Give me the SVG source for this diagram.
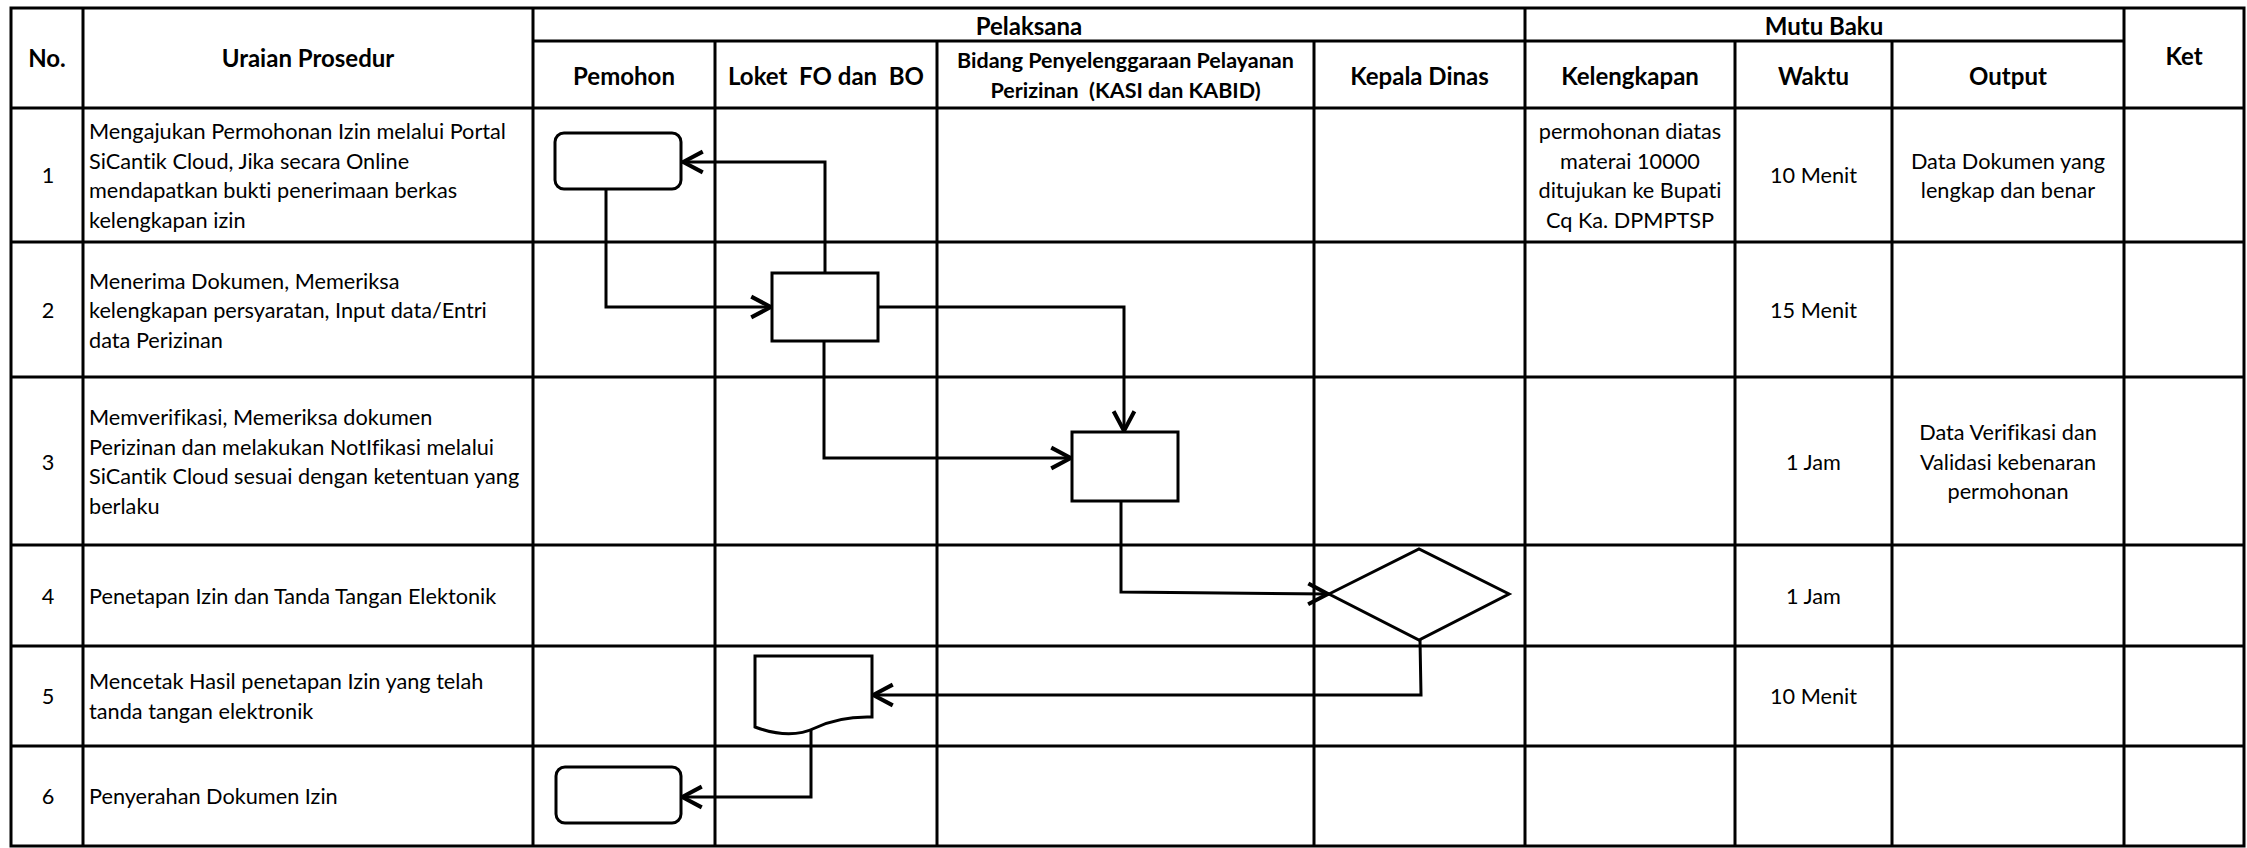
<svg xmlns="http://www.w3.org/2000/svg" width="2247" height="848" viewBox="0 0 2247 848">
<defs>
<style>
.grid{stroke:#000;stroke-width:3;fill:none}
.h{font-family:Lato,"Liberation Sans",Arial,sans-serif;font-weight:bold;font-size:24px;fill:#000;text-anchor:middle;dominant-baseline:central;white-space:pre;font-variant-ligatures:none}
.hs{font-size:21.5px}
.b{font-family:Lato,"Liberation Sans",Arial,sans-serif;font-size:21.7px;fill:#000;dominant-baseline:central;white-space:pre;font-variant-ligatures:none}
.c{text-anchor:middle}
.shape{stroke:#000;stroke-width:3;fill:#fff}
.conn{stroke:#000;stroke-width:3;fill:none;marker-end:url(#arr)}
</style>
<marker id="arr" markerUnits="userSpaceOnUse" markerWidth="30" markerHeight="30" viewBox="-22 -13 26 26" refX="1" refY="0" orient="auto">
<path d="M-17,-9 L0,0 L-17,9" fill="none" stroke="#000" stroke-width="3.5"/>
</marker>
</defs>
<rect width="2247" height="848" fill="#fff"/>
<g id="table">
<rect class="grid" x="11" y="8" width="2233" height="838"/>
<path class="grid" d="M533,41H2124M11,108H2244M11,242H2244M11,377H2244M11,545H2244M11,646H2244M11,746H2244M83,8V846M533,8V846M1525,8V846M2124,8V846M715,41V846M937,41V846M1314,41V846M1735,41V846M1892,41V846"/>
<text class="h" x="47" y="57">No.</text>
<text class="h" x="308" y="57">Uraian Prosedur</text>
<text class="h" x="1029" y="25">Pelaksana</text>
<text class="h" x="1824" y="25">Mutu Baku</text>
<text class="h" x="2184" y="55">Ket</text>
<text class="h" x="624" y="75">Pemohon</text>
<text class="h" x="826" y="75">Loket  FO dan  BO</text>
<text class="h hs" x="1125.5" y="60">Bidang Penyelenggaraan Pelayanan</text>
<text class="h hs" x="1125.5" y="90">Perizinan  (KASI dan KABID)</text>
<text class="h" x="1419.5" y="75">Kepala Dinas</text>
<text class="h" x="1630" y="75">Kelengkapan</text>
<text class="h" x="1813.5" y="75">Waktu</text>
<text class="h" x="2008" y="75">Output</text>
<text class="b c" x="48" y="175">1</text>
<text class="b c" x="48" y="310">2</text>
<text class="b c" x="48" y="461.5">3</text>
<text class="b c" x="48" y="595.5">4</text>
<text class="b c" x="48" y="696">5</text>
<text class="b c" x="48" y="796">6</text>
<text class="b" x="89" y="131">Mengajukan Permohonan Izin melalui Portal</text>
<text class="b" x="89" y="160.5">SiCantik Cloud, Jika secara Online</text>
<text class="b" x="89" y="190">mendapatkan bukti penerimaan berkas</text>
<text class="b" x="89" y="219.5">kelengkapan izin</text>
<text class="b" x="89" y="280.5">Menerima Dokumen, Memeriksa</text>
<text class="b" x="89" y="310">kelengkapan persyaratan, Input data/Entri</text>
<text class="b" x="89" y="339.5">data Perizinan</text>
<text class="b" x="89" y="417">Memverifikasi, Memeriksa dokumen</text>
<text class="b" x="89" y="446.5">Perizinan dan melakukan NotIfikasi melalui</text>
<text class="b" x="89" y="476">SiCantik Cloud sesuai dengan ketentuan yang</text>
<text class="b" x="89" y="505.5">berlaku</text>
<text class="b" x="89" y="595.5">Penetapan Izin dan Tanda Tangan Elektonik</text>
<text class="b" x="89" y="681">Mencetak Hasil penetapan Izin yang telah</text>
<text class="b" x="89" y="710.5">tanda tangan elektronik</text>
<text class="b" x="89" y="796">Penyerahan Dokumen Izin</text>
<text class="b c" x="1630" y="131">permohonan diatas</text>
<text class="b c" x="1630" y="160.5">materai 10000</text>
<text class="b c" x="1630" y="190">ditujukan ke Bupati</text>
<text class="b c" x="1630" y="219.5">Cq Ka. DPMPTSP</text>
<text class="b c" x="1813.5" y="175">10 Menit</text>
<text class="b c" x="1813.5" y="310">15 Menit</text>
<text class="b c" x="1813.5" y="461.5">1 Jam</text>
<text class="b c" x="1813.5" y="595.5">1 Jam</text>
<text class="b c" x="1813.5" y="696">10 Menit</text>
<text class="b c" x="2008" y="161">Data Dokumen yang</text>
<text class="b c" x="2008" y="190">lengkap dan benar</text>
<text class="b c" x="2008" y="432">Data Verifikasi dan</text>
<text class="b c" x="2008" y="461.5">Validasi kebenaran</text>
<text class="b c" x="2008" y="491">permohonan</text>
</g>
<g id="connectors">
<path class="conn" d="M825,273V162H682"/>
<path class="conn" d="M606,189V307H772"/>
<path class="conn" d="M878,307H1124V432"/>
<path class="conn" d="M824,341V458H1072"/>
<path class="conn" d="M1121,501V592L1329,594"/>
<path class="conn" d="M1420,640L1421,695H872"/>
<path class="conn" d="M811,730V797H681"/>
</g>
<g id="node-a"><rect class="shape" x="555" y="133" width="126" height="56" rx="9"/></g>
<g id="node-b"><rect class="shape" x="772" y="273" width="106" height="68"/></g>
<g id="node-c"><rect class="shape" x="1072" y="432" width="106" height="69"/></g>
<g id="node-d"><polygon class="shape" points="1329,594 1419,549 1509,594 1419,640"/></g>
<g id="node-e"><path class="shape" d="M755,656H872V717Q840,716 815,728Q790,740 755,727Z"/></g>
<g id="node-f"><rect class="shape" x="556" y="767" width="125" height="56" rx="9"/></g>
</svg>
